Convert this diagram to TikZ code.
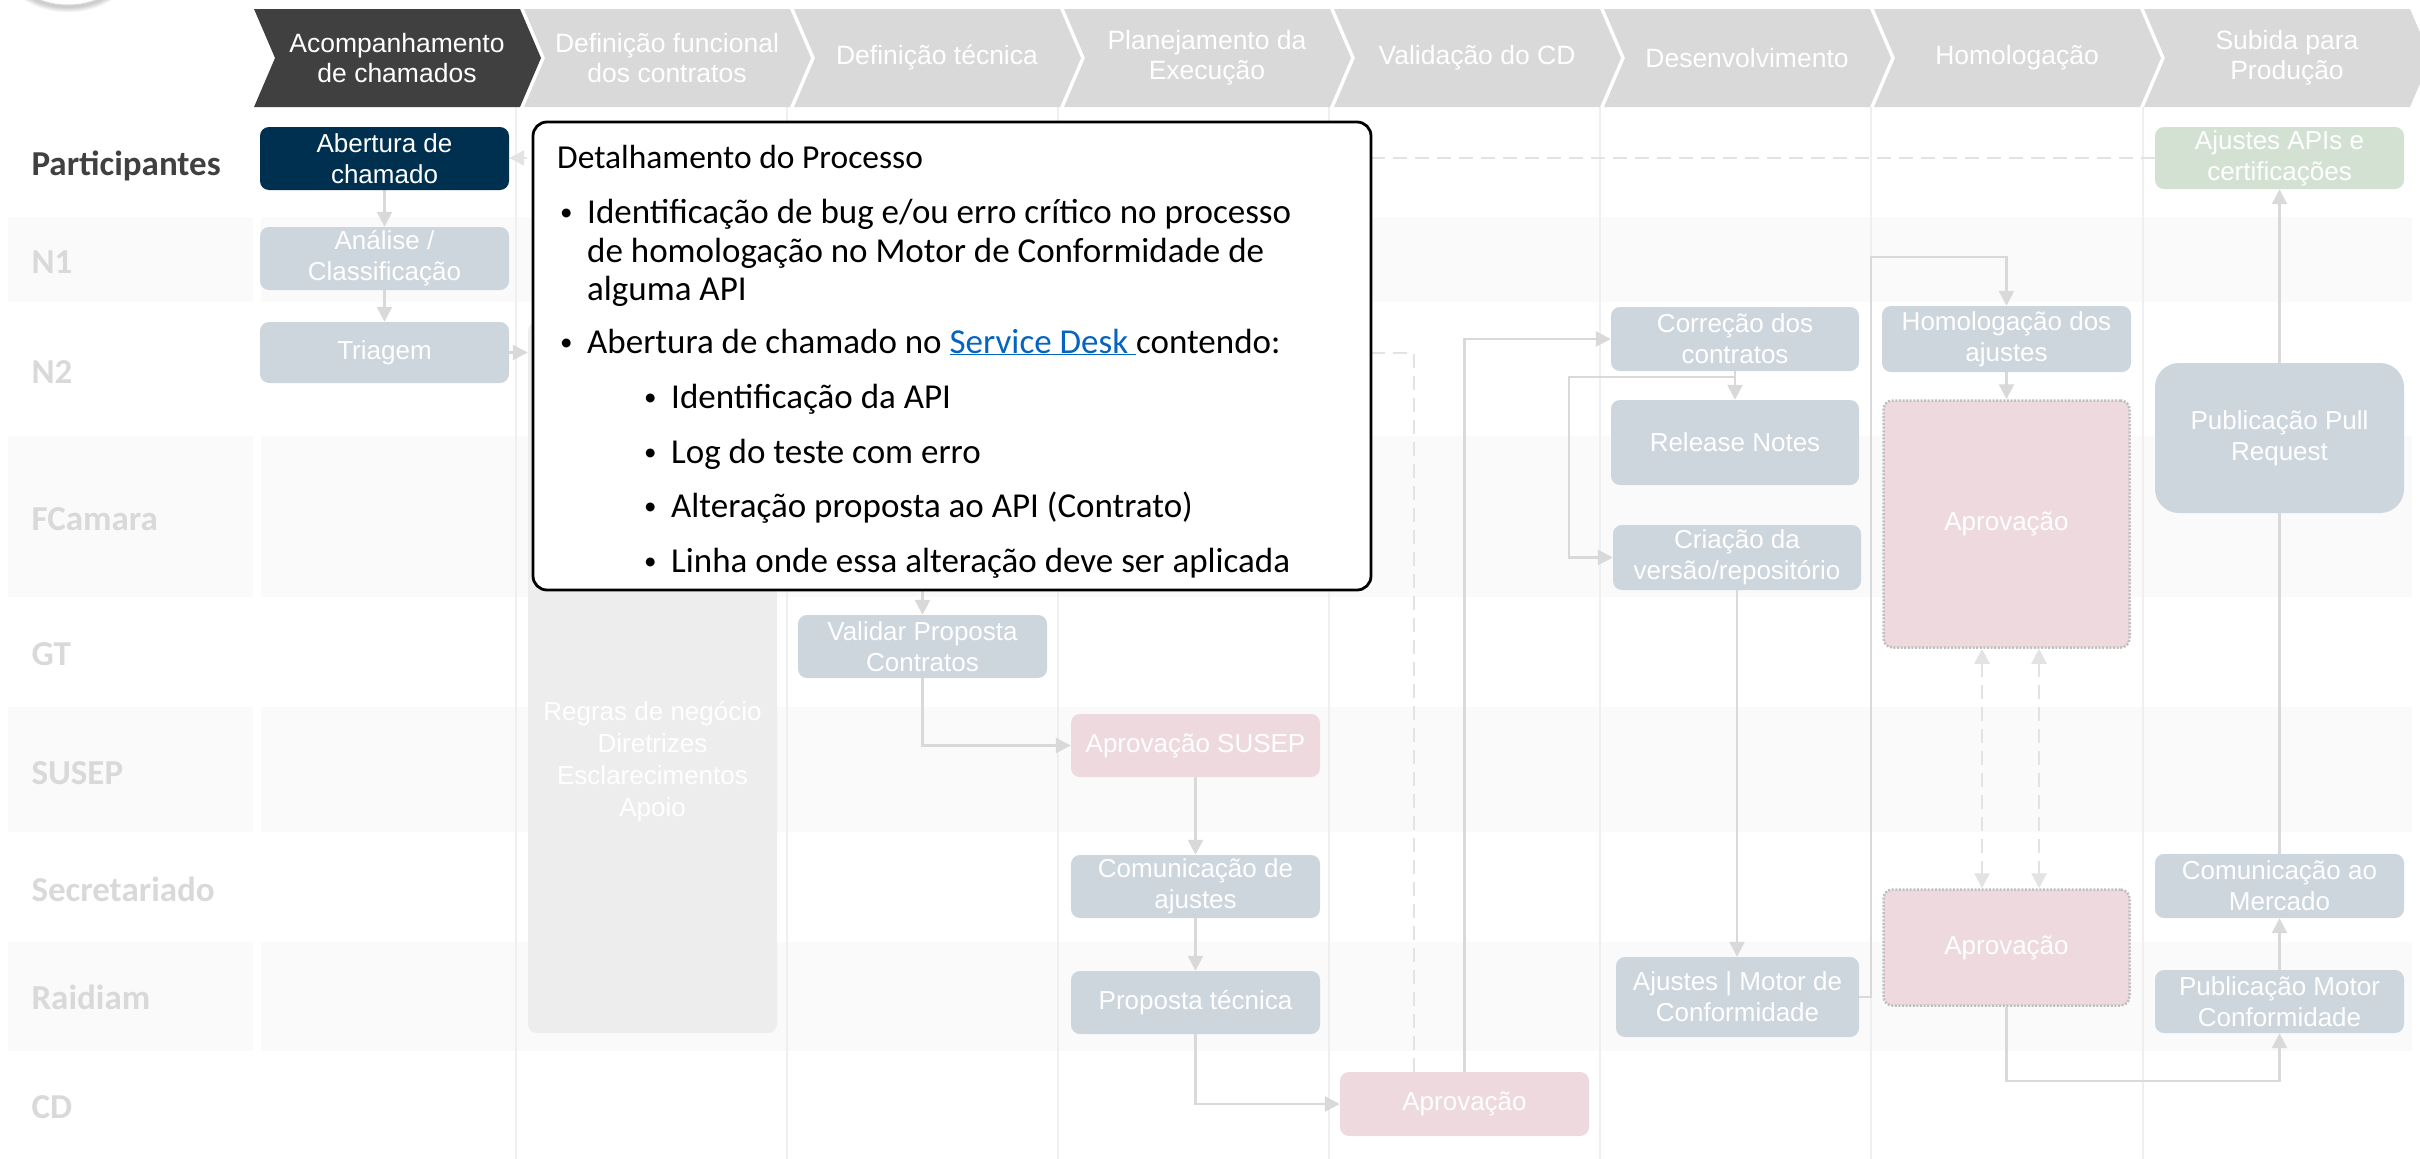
\documentclass[tikz,border=0pt]{standalone}
\usepackage{fontspec}
\setmainfont{Liberation Sans}
\newfontfamily\calf{Carlito}
\usetikzlibrary{arrows.meta,calc}
\pgfdeclarelayer{back}
\pgfdeclarelayer{lines}
\pgfdeclarelayer{front}
\pgfsetlayers{back,lines,main,front}
\definecolor{navy}{HTML}{003050}
\definecolor{bluegray}{HTML}{CDD5DD}
\definecolor{pinkc}{HTML}{EDD9DE}
\definecolor{greenc}{HTML}{D3E1D2}
\definecolor{regc}{HTML}{EDEDED}
\definecolor{hdark}{HTML}{404040}
\definecolor{hlight}{HTML}{D9D9D9}
\definecolor{bandc}{HTML}{FAFAFA}
\definecolor{gridc}{HTML}{EFEFEF}
\definecolor{connc}{HTML}{D9D9D9}
\definecolor{dashc}{HTML}{E3E3E3}
\definecolor{dotc}{HTML}{BFBFBF}
\definecolor{labd}{HTML}{404040}
\definecolor{labl}{HTML}{D9D9D9}
\definecolor{linkb}{HTML}{0563C1}
\begin{document}
\begin{tikzpicture}[x=1pt,y=-1pt,
  box/.style={rounded corners=9pt, inner sep=2pt, align=center, text=white,
    font=\fontsize{26}{31}\selectfont, minimum width=249pt},
  bbox/.style={box, fill=bluegray},
  pbox/.style={box, fill=pinkc},
  dotbox/.style={pbox, draw=dotc, line width=2.5pt, dash pattern=on 2pt off 1.6pt},
  htxt/.style={align=center, text=white, font=\fontsize{26.5}{30}\selectfont},
  lbl/.style={anchor=base west, font=\calf\bfseries\fontsize{35}{40}\selectfont, text=labl},
  dtxt/.style={anchor=base west, inner sep=0pt, font=\calf\fontsize{35}{40}\selectfont, text=black},
  dbul/.style={anchor=base west, inner sep=0pt, font=\calf\fontsize{25}{30}\selectfont, text=black},
  conn/.style={draw=connc, line width=2.6pt, -{Triangle[length=15pt,width=15pt]}},
  dconn/.style={draw=dashc, line width=2.6pt, dash pattern=on 14pt off 8pt},
  gridl/.style={draw=gridc, line width=1.6pt}
]
\useasboundingbox (0,0) rectangle (2420,1159);

\begin{pgfonlayer}{back}
% row bands
\foreach \ya/\yb in {217/302, 436/597, 707/832, 942/1051} {
  \fill[bandc] (8,\ya) rectangle (253,\yb);
  \fill[bandc] (261,\ya) rectangle (2412,\yb);
}
% column lines
\foreach \xg in {516,787,1058,1329,1600,1871,2143}
  \draw[gridl] (\xg,107) -- (\xg,1159);
% logo circle with soft shadow
\foreach \k in {1,...,6}
  \fill[black, opacity=0.035] (68,-73) circle ({80pt+\k*0.9pt});
\draw[draw=black!15, fill=white, line width=1pt] (68,-75) circle (80pt);
\end{pgfonlayer}

% header chevrons
\foreach \i/\t in {0/{Acompanhamento\\de chamados},1/{Definição funcional\\dos contratos},2/{Definição técnica},3/{Planejamento da\\Execução},4/{Validação do CD},5/{Desenvolvimento},6/{Homologação},7/{Subida para\\Produção}} {
  \pgfmathsetmacro\xa{254+270*\i}
  \ifnum\i=0 \def\hc{hdark}\else\def\hc{hlight}\fi
  \fill[\hc] (\xa,9) -- ++(266,0) -- ++(21,49) -- ++(-21,49) -- ++(-266,0) -- ++(21,-49) -- cycle;
  \node[htxt] (h\i) at (\xa+143,58) {\t};
}

% row labels
\node[lbl, text=labd] (lPart) at (28,175) {Participantes};
\node[lbl] (lN1) at (28,273) {N1};
\node[lbl] (lN2) at (28,383) {N2};
\node[lbl] (lFC) at (28,530) {FCamara};
\node[lbl] (lGT) at (28,665) {GT};
\node[lbl] (lSU) at (28,784) {SUSEP};
\node[lbl] (lSE) at (28,901) {Secretariado};
\node[lbl] (lRA) at (28,1009) {Raidiam};
\node[lbl] (lCD) at (28,1118) {CD};

% boxes
\node[box, fill=navy, minimum height=63pt] (abertura) at (384.5,158.5) {Abertura de\\chamado};
\node[bbox, minimum height=63pt] (analise) at (384.5,258.5) {Análise /\\Classificação};
\node[bbox, minimum height=61pt] (triagem) at (384.5,352.5) {Triagem};
\node[box, fill=regc, minimum height=711pt] (regras) at (652.5,677.5) {};
\node[align=center, text=white, font=\fontsize{26}{32}\selectfont] (regrasT) at (652.5,762) {Regras de negócio\\Diretrizes\\Esclarecimentos\\Apoio};
\node[bbox, minimum height=63pt] (validar) at (922.5,646.5) {Validar Proposta\\Contratos};
\node[pbox, minimum height=63pt] (aprovSUSEP) at (1195.5,745.5) {Aprovação SUSEP};
\node[bbox, minimum height=63pt] (comunic) at (1195.5,886.5) {Comunicação de\\ajustes};
\node[bbox, minimum height=63pt] (proposta) at (1195.5,1002.5) {Proposta técnica};
\node[pbox, minimum height=64pt] (aprovCD) at (1464.5,1104) {Aprovação};
\node[bbox, minimum width=248pt, minimum height=64pt] (correcao) at (1735,339) {Correção dos\\contratos};
\node[bbox, minimum width=248pt, minimum height=85pt] (release) at (1735,442.5) {Release Notes};
\node[bbox, minimum width=248pt, minimum height=65pt] (criacao) at (1737,557.5) {Criação da\\versão/repositório};
\node[bbox, minimum width=243pt, minimum height=80pt] (ajustesMotor) at (1737.5,997) {Ajustes | Motor de\\Conformidade};
\node[bbox, minimum height=66pt] (homolog) at (2006.5,339) {Homologação dos\\ajustes};
\node[dotbox, minimum width=246pt, minimum height=247pt] (aprovBig) at (2006.5,524) {Aprovação};
\node[dotbox, minimum width=246pt, minimum height=116pt] (aprovSmall) at (2006.5,947.5) {Aprovação};
\node[box, fill=greenc, minimum height=62pt] (ajustesAPIs) at (2279.5,158) {Ajustes APIs e\\certificações};
\node[bbox, rounded corners=24pt, minimum height=150pt] (pullreq) at (2279.5,438) {Publicação Pull\\Request};
\node[bbox, minimum height=64pt] (comMercado) at (2279.5,886) {Comunicação ao\\Mercado};
\node[bbox, minimum height=63pt] (pubMotor) at (2279.5,1001.5) {Publicação Motor\\Conformidade};

% connectors
\begin{pgfonlayer}{lines}
\draw[conn] (abertura.south) -- (analise.north);
\draw[conn] (analise.south) -- (triagem.north);
\draw[conn] (triagem.east) -- (triagem.east -| regras.west);
\draw[dconn, -{Triangle[length=15pt,width=15pt]}] (ajustesAPIs.west) -- (ajustesAPIs.west -| abertura.east);
\coordinate (hidv) at (922.5,560);
\draw[conn] (hidv) -- (validar.north);
\draw[conn] (validar.south) |- (aprovSUSEP.west);
\draw[conn] (aprovSUSEP.south) -- (comunic.north);
\draw[conn] (comunic.south) -- (proposta.north);
\draw[conn] (proposta.south) |- (aprovCD.west);
\coordinate (dst) at (777,353);
\coordinate (dturn) at (1414,353);
\draw[dconn] (dst) -- (dturn) -- (dturn |- aprovCD.north);
\draw[conn] (aprovCD.north) |- (correcao.west);
\draw[conn] (correcao.south) -- (release.north);
\coordinate (cc) at (1569,377);
\draw[conn] (correcao.south) |- (cc) |- (criacao.west);
\draw[conn] (criacao.south) -- (criacao.south |- ajustesMotor.north);
\coordinate (hm) at (1871,257);
\draw[conn] (ajustesMotor.east) -| (hm) -| (homolog.north);
\draw[conn] (homolog.south) -- (aprovBig.north);
\draw[dconn, {Triangle[length=15pt,width=15pt]}-{Triangle[length=15pt,width=15pt]}] ($(aprovBig.south)+(-24.5,0)$) -- ($(aprovSmall.north)+(-24.5,0)$);
\draw[dconn, {Triangle[length=15pt,width=15pt]}-{Triangle[length=15pt,width=15pt]}] ($(aprovBig.south)+(32.5,0)$) -- ($(aprovSmall.north)+(32.5,0)$);
\coordinate (bt) at (2279.5,1081);
\draw[conn] (aprovSmall.south) |- (bt) -- (pubMotor.south);
\draw[conn] (pubMotor.north) -- (comMercado.south);
\draw[conn] (comMercado.north) -- (ajustesAPIs.south);
\end{pgfonlayer}

% detail callout
\begin{pgfonlayer}{front}
\node[draw=black, line width=2.8pt, fill=white, rounded corners=14pt, minimum width=838pt, minimum height=468pt, inner sep=0pt] (detail) at (952,356) {};
\node[dtxt, font=\calf\fontsize{33.5}{40}\selectfont] (dtitle) at (557,168) {Detalhamento do Processo};
\node[dbul] (b1) at (560,220) {•};
\node[dtxt] (t1a) at (587,223) {Identificação de bug e/ou erro crítico no processo};
\node[dtxt] (t1b) at (587,262) {de homologação no Motor de Conformidade de};
\node[dtxt] (t1c) at (587,300) {alguma API};
\node[dbul] (b2) at (560,350) {•};
\node[dtxt] (t2) at (587,353) {Abertura de chamado no \textcolor{linkb}{\underline{Service Desk\ }}contendo:};
\node[dbul] (s1d) at (644,405) {•};
\node[dtxt] (s1) at (671,408) {Identificação da API};
\node[dbul] (s2d) at (644,460) {•};
\node[dtxt] (s2) at (671,463) {Log do teste com erro};
\node[dbul] (s3d) at (644,514) {•};
\node[dtxt] (s3) at (671,517) {Alteração proposta ao API (Contrato)};
\node[dbul] (s4d) at (644,569) {•};
\node[dtxt] (s4) at (671,572) {Linha onde essa alteração deve ser aplicada};
\end{pgfonlayer}
\end{tikzpicture}
\end{document}
